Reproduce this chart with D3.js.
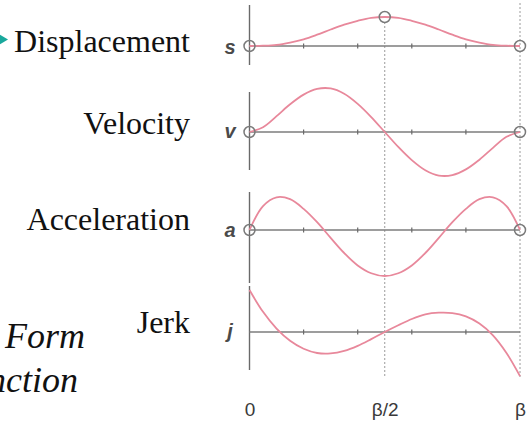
<!DOCTYPE html>
<html><head><meta charset="utf-8">
<script src="https://cdn.jsdelivr.net/npm/d3@7"></script>
<style>html,body{margin:0;padding:0;background:#fff;overflow:hidden}</style>
</head><body>
<svg id="c" width="529" height="421"></svg>
<script>
// ---- data ----
const xs = [0,0.05,0.1,0.15,0.2,0.25,0.3,0.35,0.4,0.45,0.5,0.55,0.6,0.65,0.7,0.75,0.8,0.85,0.9,0.95,1];
const displacement = [0,0.01,0.04,0.12,0.23,0.39,0.57,0.74,0.87,0.97,1,0.97,0.87,0.74,0.57,0.39,0.23,0.12,0.04,0.01,0];
const velocity = [0,0.11,0.36,0.63,0.85,0.98,0.99,0.87,0.64,0.34,0,-0.34,-0.64,-0.87,-0.99,-0.98,-0.85,-0.63,-0.36,-0.11,0];
const acceleration = [0,0.52,0.71,0.67,0.46,0.17,-0.17,-0.50,-0.77,-0.94,-1,-0.94,-0.77,-0.50,-0.17,0.17,0.46,0.67,0.71,0.52,0];
const jerk = [1.0,0.48,0.08,-0.21,-0.40,-0.50,-0.51,-0.45,-0.33,-0.17,0,0.16,0.31,0.42,0.46,0.45,0.37,0.20,-0.08,-0.50,-1.05];
const seriesNames = ["Displacement","Velocity","Acceleration","Jerk"];
const axisSymbols = ["s","v","a","j"];
const tickValuesMinor = [0.2,0.4,0.6,0.8];
const tickLabelValues = [0,0.5,1];
const tickLabels = ["0","β/2","β"];
const circleIdx = [[0,10,20],[0,20],[0,20],[]];

// ---- layout ----
const svg = d3.select("#c");
const x = d3.scaleLinear().domain([0,1]).range([249.5,520]);
const panels = [
  {data:displacement, base:46,  unit:29, axTop:5,   axBot:65,  labY:52,  symDy:8},
  {data:velocity,     base:132, unit:44, axTop:92,  axBot:170, labY:134, symDy:6},
  {data:acceleration, base:230, unit:46, axTop:192, axBot:283, labY:230, symDy:7},
  {data:jerk,         base:332, unit:42, axTop:286, axBot:370, labY:333, symDy:6}
];
const pink = "#e8889b";

// dotted guides
svg.append("line").attr("x1",x(0.5)).attr("x2",x(0.5)).attr("y1",22).attr("y2",378)
  .attr("stroke","#9a9a9a").attr("stroke-width",1).attr("stroke-dasharray","2,2");
svg.append("line").attr("x1",x(1)).attr("x2",x(1)).attr("y1",3).attr("y2",378)
  .attr("stroke","#9a9a9a").attr("stroke-width",1).attr("stroke-dasharray","2,2");

panels.forEach((p,i)=>{
  const y = d3.scaleLinear().domain([-1,1]).range([p.base+p.unit, p.base-p.unit]);
  const g = svg.append("g");
  g.append("line").attr("x1",x(0)).attr("x2",x(0)).attr("y1",p.axTop).attr("y2",p.axBot)
    .attr("stroke","#6a6a6a").attr("stroke-width",1.4);
  g.append("line").attr("x1",x(0)).attr("x2",x(1)).attr("y1",p.base).attr("y2",p.base)
    .attr("stroke","#7d7d7d").attr("stroke-width",1.4);
  g.selectAll(".tk").data(tickValuesMinor).join("line")
    .attr("x1",d=>x(d)).attr("x2",d=>x(d)).attr("y1",p.base-2.5).attr("y2",p.base+2.5)
    .attr("stroke","#6a6a6a").attr("stroke-width",1.2);
  const line = d3.line().x((d,k)=>x(xs[k])).y(d=>y(d)).curve(d3.curveCatmullRom.alpha(0.5));
  g.append("path").attr("d",line(p.data)).attr("fill","none")
    .attr("stroke",pink).attr("stroke-width",1.8);
  g.selectAll("circle").data(circleIdx[i]).join("circle")
    .attr("cx",k=>x(xs[k])).attr("cy",k=>y(p.data[k])).attr("r",5.5)
    .attr("fill","none").attr("stroke","#7a7a7a").attr("stroke-width",1.5);
  g.append("text").attr("x",230).attr("y",p.base+p.symDy).attr("text-anchor","middle")
    .attr("font-family","Liberation Sans, Arial, sans-serif").attr("font-size",20)
    .attr("font-weight","bold").attr("font-style","italic").attr("fill","#4a4a4a")
    .text(axisSymbols[i]);
  svg.append("text").attr("x",190).attr("y",p.labY).attr("text-anchor","end")
    .attr("font-family","Liberation Serif, Times New Roman, serif").attr("font-size",32)
    .attr("fill","#111").text(seriesNames[i]);
});

// bottom tick labels
const ax = d3.axisBottom(x).tickValues(tickLabelValues)
  .tickFormat((d,i)=>tickLabels[i]).tickSize(0).tickPadding(2);
const axg = svg.append("g").attr("transform","translate(0,400)").call(ax);
axg.select(".domain").remove();
axg.selectAll("text").attr("font-family","Liberation Sans, Arial, sans-serif")
  .attr("font-size",19).attr("fill","#3a3a3a");

// bullet arrow
svg.append("polygon").attr("points","-3,33 8,39.5 -3,46").attr("fill","#19a89c");

// italic fragments at left
svg.append("text").attr("x",5).attr("y",348)
  .attr("font-family","Liberation Serif, Times New Roman, serif").attr("font-size",36)
  .attr("font-style","italic").attr("fill","#111").text("Form");
svg.append("text").attr("x",78).attr("y",392).attr("text-anchor","end")
  .attr("font-family","Liberation Serif, Times New Roman, serif").attr("font-size",36)
  .attr("font-style","italic").attr("fill","#111").text("Function");
</script>
</body></html>
